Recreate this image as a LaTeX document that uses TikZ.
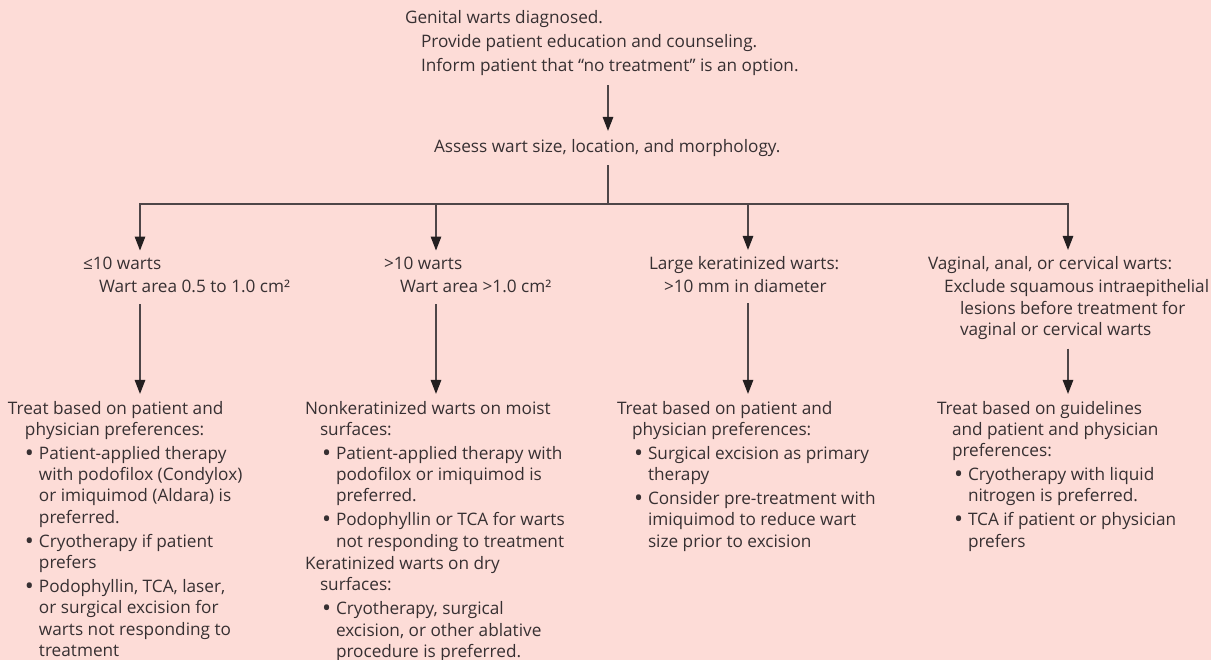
\documentclass[tikz,border=0pt]{standalone}
\usepackage{fontspec}
\setmainfont{Open Sans}
\usetikzlibrary{arrows.meta}
\definecolor{bgpink}{RGB}{253,220,215}
\definecolor{txtgray}{RGB}{55,48,50}
\definecolor{lngray}{RGB}{78,70,72}
\definecolor{tipgray}{RGB}{35,31,32}
\newcommand\Ia{\hspace*{16pt}}
\newcommand\Bi{\hspace*{17pt}\makebox[14pt][l]{\raisebox{-1.8pt}{\scalebox{1.4}{\textbullet}}}}
\newcommand\Bc{\hspace*{31pt}}
\begin{document}
\begin{tikzpicture}[x=1pt,y=-1pt,
  blk/.style={anchor=base west, inner sep=0pt, outer sep=0pt, align=left,
    text=txtgray, font=\fontsize{17.2}{21.3}\selectfont},
  ln/.style={draw=lngray, line width=1.3pt},
  arr/.style={ln, -{Triangle[width=10.5pt,length=14pt,color=tipgray]}}]
\useasboundingbox (0,0) rectangle (1211,660);
\fill[bgpink] (0,0) rectangle (1211,660);

% nodes (anchored at the baseline of their last line)
\node[blk] (top) at (405,72) {Genital warts diagnosed.\\[2.7pt]
\Ia Provide patient education and counseling.\\[2.7pt]
\Ia Inform patient that “no treatment” is an option.};
\node[blk] (assess) at (434,153) {Assess wart size, location, and morphology.};

\node[blk] (h1) at (83,293) {≤10 warts\\[1.7pt]
\Ia Wart area 0.5 to 1.0 cm²};
\node[blk] (h2) at (384,293) {>10 warts\\[1.7pt]
\Ia Wart area >1.0 cm²};
\node[blk] (h3) at (649,293) {Large keratinized warts:\\[1.7pt]
\hspace*{15pt}>10 mm in diameter};
\node[blk] (h4) at (928,335.6) {Vaginal, anal, or cervical warts:\\[1.7pt]
\Ia Exclude squamous intraepithelial\\
\hspace*{32pt}lesions before treatment for\\
\hspace*{32pt}vaginal or cervical warts};

\node[blk] (t1) at (8,656.4) {Treat based on patient and\\
\hspace*{17pt}physician preferences:\\[2.7pt]
\Bi Patient-applied therapy\\
\Bc with podofilox (Condylox)\\
\Bc or imiquimod (Aldara) is\\
\Bc preferred.\\[2.7pt]
\Bi Cryotherapy if patient\\
\Bc prefers\\[2.7pt]
\Bi Podophyllin, TCA, laser,\\
\Bc or surgical excision for\\
\Bc warts not responding to\\
\Bc treatment};
\node[blk] (t2) at (305,657.4) {Nonkeratinized warts on moist\\
\hspace*{15pt}surfaces:\\[2.7pt]
\Bi Patient-applied therapy with\\
\Bc podofilox or imiquimod is\\
\Bc preferred.\\[2.7pt]
\Bi Podophyllin or TCA for warts\\
\Bc not responding to treatment\\[1pt]
Keratinized warts on dry\\
\hspace*{15pt}surfaces:\\[2.7pt]
\Bi Cryotherapy, surgical\\
\Bc excision, or other ablative\\
\Bc procedure is preferred.};
\node[blk] (t3) at (617,547.2) {Treat based on patient and\\
\hspace*{15pt}physician preferences:\\[2.7pt]
\Bi Surgical excision as primary\\
\Bc therapy\\[2.7pt]
\Bi Consider pre-treatment with\\
\Bc imiquimod to reduce wart\\
\Bc size prior to excision};
\node[blk] (t4) at (937,547.2) {Treat based on guidelines\\
\hspace*{15pt}and patient and physician\\
\hspace*{15pt}preferences:\\[2.7pt]
\Bi Cryotherapy with liquid\\
\Bc nitrogen is preferred.\\[2.7pt]
\Bi TCA if patient or physician\\
\Bc prefers};

% junction coordinates
\coordinate (sx) at (608,0);
\coordinate (jc) at (608,204);
\coordinate (j1) at (140,204);
\coordinate (j2) at (436,204);
\coordinate (j3) at (748,204);
\coordinate (j4) at (1068,204);

% connectors
\draw[arr, shorten <=9pt, shorten >=9pt] (top.south -| sx) -- (assess.north -| sx);
\draw[ln, shorten <=8pt] (assess.south -| sx) -- (jc);
\draw[ln, line cap=rect] (j1) -- (j4);
\foreach \i in {1,2,3,4} {
  \draw[arr, shorten >=7pt] (j\i) -- (h\i.north -| j\i);
}
\draw[arr, shorten <=11pt, shorten >=7pt] (h1.south -| j1) -- (t1.north -| j1);
\draw[arr, shorten <=11pt, shorten >=7pt] (h2.south -| j2) -- (t2.north -| j2);
\draw[arr, shorten <=10pt, shorten >=7pt] (h3.south -| j3) -- (t3.north -| j3);
\draw[arr, shorten <=9pt, shorten >=7pt] (h4.south -| j4) -- (t4.north -| j4);
\end{tikzpicture}
\end{document}
